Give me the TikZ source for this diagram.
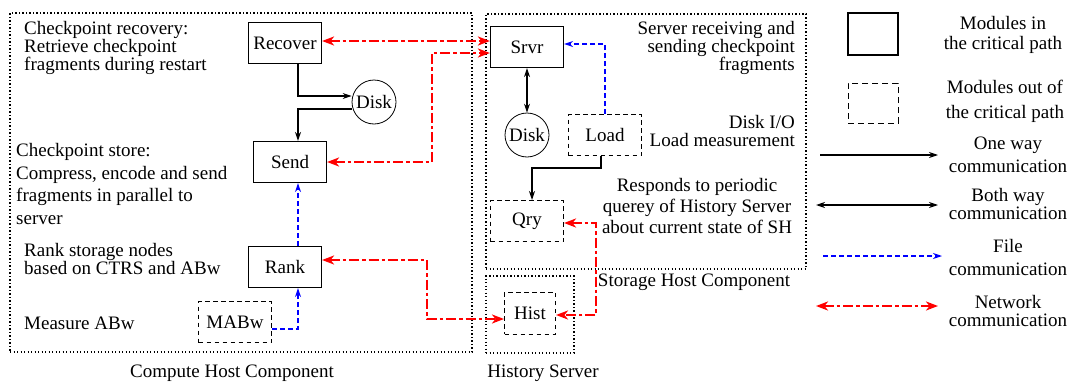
\documentclass[tikz,border=0pt]{standalone}
\usepackage{fontspec}
\setmainfont{Liberation Serif}
\usetikzlibrary{arrows.meta}
\begin{document}
\begin{tikzpicture}[x=1pt,y=-1pt,
  font=\fontsize{19}{18}\selectfont,
  crit/.style={draw,line width=1.1pt,minimum width=73pt,minimum height=41pt,inner sep=0pt},
  noncrit/.style={draw,line width=1pt,dash pattern=on 4.5pt off 3.5pt,minimum width=73pt,minimum height=41pt,inner sep=0pt},
  disk/.style={draw,circle,line width=0.8pt,minimum size=44pt,inner sep=0pt},
  region/.style={draw,line width=1.8pt,dash pattern=on 1.3pt off 2.2pt},
  oneway/.style={line width=1.1pt,-{Stealth[length=9pt,width=6pt]}},
  bothway/.style={line width=1.1pt,{Stealth[length=9pt,width=6pt]}-{Stealth[length=9pt,width=6pt]}},
  filecom/.style={blue,line width=1.1pt,dash pattern=on 5pt off 3pt,-{Stealth[length=9pt,width=6pt]}},
  netcom/.style={red,line width=2.6pt,dash pattern=on 10pt off 3pt on 3.5pt off 3pt,{Stealth[length=12pt,width=9pt,inset=3.5pt]}-{Stealth[length=12pt,width=9pt,inset=3.5pt]}},
  lbl/.style={inner sep=0pt}
]
\useasboundingbox (0,0) rectangle (1073,383);

% regions
\node[region,minimum width=462pt,minimum height=339pt,inner sep=0pt] (chc) at (241,182.5) {};
\node[region,minimum width=320pt,minimum height=255pt,inner sep=0pt] (shc) at (646,141.5) {};
\node[region,minimum width=88pt,minimum height=77pt,inner sep=0pt] (hsb) at (530,314.5) {};
\node[lbl] (chcl) at (232,373) {Compute Host Component};
\node[lbl] (shcl) at (694,282) {Storage Host Component};
\node[lbl] (hsl) at (543,373) {History Server};

% compute host modules
\node[crit] (recover) at (285,43) {Recover};
\node[disk] (disk1) at (374,102) {Disk};
\node[crit] (send) at (290,162) {Send};
\node[crit] (rank) at (285,267) {Rank};
\node[noncrit] (mabw) at (235,322) {MABw};

% storage host modules
\node[crit] (srvr) at (527,47) {Srvr};
\node[disk] (disk2) at (527,135) {Disk};
\node[noncrit] (load) at (605,135) {Load};
\node[noncrit] (qry) at (527,221) {Qry};
\node[noncrit,minimum width=51pt,minimum height=42pt] (hist) at (530,313) {Hist};

% descriptive texts
\node[lbl,anchor=west,align=left] (t1) at (24,48) {Checkpoint recovery:\\Retrieve checkpoint\\fragments during restart};
\node[lbl,anchor=west,align=left,font=\fontsize{19}{22.5}\selectfont] (t2) at (16,184) {Checkpoint store:\\Compress, encode and send\\fragments in parallel to\\server};
\node[lbl,anchor=west,align=left] (t3) at (24,259) {Rank storage nodes\\based on CTRS and ABw};
\node[lbl,anchor=west] (t4) at (24,323) {Measure ABw};
\node[lbl,anchor=east,align=right] (t5) at (795,48) {Server receiving and\\sending checkpoint\\fragments};
\node[lbl,anchor=east,align=right] (t6) at (795,131) {Disk I/O\\Load measurement};
\node[lbl,align=center,font=\fontsize{19}{21}\selectfont] (t7) at (697,206) {Responds to periodic\\querey of History Server\\about current state of SH};

% connectors compute host
\draw[oneway] (recover.south -| 298,0) |- (disk1.west |- 0,96);
\draw[oneway] (disk1.west |- 0,109) -| (send.north -| 298,0);
\draw[filecom] (mabw.east |- 0,329) -| (rank.south -| 298,0);
\draw[filecom] (rank.north -| 298,0) -- (send.south -| 298,0);

% storage host connectors
\draw[bothway] (srvr.south) -- (disk2.north);
\coordinate (lt) at (605,44);
\draw[filecom] (load.north) -- (lt) -- (srvr.east |- lt);
\coordinate (lb1) at (601,168);
\coordinate (lb2) at (532,168);
\draw[oneway] (load.south -| lb1) -- (lb1) -- (lb2) -- (qry.north -| lb2);

% network connectors
\draw[netcom] (recover.east |- 0,41) -- (srvr.west |- 0,41);
\coordinate (n1) at (432,162);
\coordinate (n2) at (432,53);
\draw[netcom] (send.east |- n1) -- (n1) -- (n2) -- (srvr.west |- n2);
\coordinate (n3) at (427,260);
\coordinate (n4) at (427,319);
\draw[netcom] (rank.east |- n3) -- (n3) -- (n4) -- (hist.west |- n4);
\coordinate (n5) at (596,223);
\coordinate (n6) at (596,315);
\draw[netcom] (qry.east |- n5) -- (n5) -- (n6) -- (hist.east |- n6);

% legend
\node[crit,minimum width=50pt,minimum height=42pt] (lg1) at (873,34) {};
\node[noncrit,minimum width=50pt,minimum height=40pt,dash pattern=on 6pt off 4pt] (lg2) at (873,103) {};
\node[lbl,align=center,font=\fontsize{19}{20}\selectfont] (lt1) at (1003,35) {Modules in\\the critical path};
\node[lbl,align=center,font=\fontsize{19}{25}\selectfont] (lt2) at (1005,101) {Modules out of\\the critical path};
\coordinate (a1s) at (820,155); \coordinate (a1e) at (938,155);
\draw[oneway] (a1s) -- (a1e);
\node[lbl,align=center,font=\fontsize{19}{23}\selectfont] (lt3) at (1008,155) {One way\\communication};
\coordinate (a2s) at (816,205); \coordinate (a2e) at (938,205);
\draw[bothway] (a2s) -- (a2e);
\node[lbl,align=center] (lt4) at (1008,204) {Both way\\communication};
\coordinate (a3s) at (823,256); \coordinate (a3e) at (942,256);
\draw[filecom] (a3s) -- (a3e);
\node[lbl,align=center,font=\fontsize{19}{23}\selectfont] (lt5) at (1008,257) {File\\communication};
\coordinate (a4s) at (816,306); \coordinate (a4e) at (938,306);
\draw[netcom] (a4s) -- (a4e);
\node[lbl,align=center] (lt6) at (1008,311) {Network\\communication};
\end{tikzpicture}
\end{document}
